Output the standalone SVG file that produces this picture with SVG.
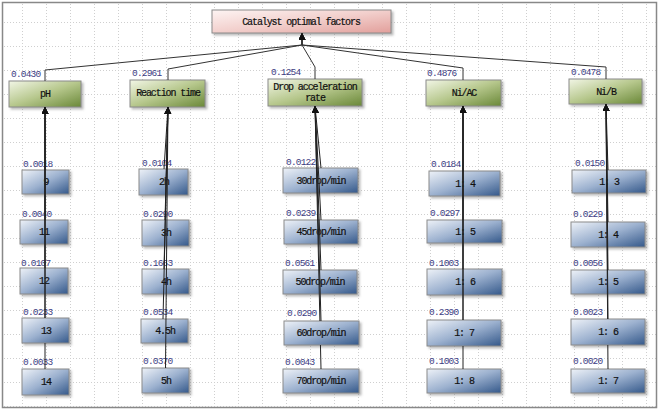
<svg xmlns="http://www.w3.org/2000/svg" width="661" height="411" viewBox="0 0 661 411">
<defs>
<style>
.frame{fill:url(#grid);stroke:#888;stroke-width:1.5}
.box{stroke:#8a8a8a;stroke-width:1;filter:url(#sh)}
.root{fill:url(#gRoot)}
.fac{fill:url(#gGreen)}
.chd{fill:url(#gBlue)}
.t{font-family:"Liberation Mono",monospace;font-size:10px;letter-spacing:-1.1px;fill:#111;text-anchor:middle;stroke:#111;stroke-width:0.2}
.w{font-family:"Liberation Mono",monospace;font-size:9.5px;letter-spacing:-0.8px;fill:#3c3c82}
.c{fill:none;stroke:#333;stroke-width:1;marker-end:url(#arr)}
.cc{fill:none;stroke:#222;stroke-width:1;marker-end:url(#arr)}
</style>
<pattern id="grid" patternUnits="userSpaceOnUse" x="22" y="22" width="24" height="24">
<rect width="24" height="24" fill="#fff"/>
<path d="M0 0.5H24M0.5 0V24" stroke="#cfcfcf" stroke-width="1" stroke-dasharray="1 2" fill="none"/>
</pattern>
<linearGradient id="gRoot" x1="0" y1="0" x2="1" y2="1">
<stop offset="0" stop-color="#fdf4f3"/><stop offset="0.5" stop-color="#f2cfcc"/><stop offset="1" stop-color="#e29f9b"/>
</linearGradient>
<linearGradient id="gGreen" x1="0" y1="0" x2="1" y2="1">
<stop offset="0" stop-color="#f2f6e6"/><stop offset="0.5" stop-color="#b6c78c"/><stop offset="1" stop-color="#6a8838"/>
</linearGradient>
<linearGradient id="gBlue" x1="0" y1="0" x2="1" y2="1">
<stop offset="0" stop-color="#eef2f8"/><stop offset="0.5" stop-color="#9cb1cf"/><stop offset="1" stop-color="#34588a"/>
</linearGradient>
<filter id="sh" x="-10%" y="-20%" width="130%" height="150%">
<feDropShadow dx="2" dy="2" stdDeviation="1" flood-color="#777" flood-opacity="0.5"/>
</filter>
<marker id="arr" markerUnits="userSpaceOnUse" markerWidth="8" markerHeight="8" refX="7" refY="3.5" orient="auto">
<path d="M0 0L7 3.5L0 7z" fill="#111"/>
</marker>
</defs>
<rect class="frame" x="2.5" y="2.5" width="654" height="405"/>

<g id="root"><rect class="box root" x="212" y="10" width="179" height="23"/><text class="t" x="301" y="25">Catalyst optimal factors</text></g>

<g id="f-ph"><rect class="box fac" x="9" y="81" width="72" height="26"/><text class="t" x="45" y="97">pH</text></g>
<g id="f-rt"><rect class="box fac" x="130" y="80" width="75" height="27"/><text class="t" x="168" y="96">Reaction time</text></g>
<g id="f-drop"><rect class="box fac" x="268" y="79" width="94" height="27"/><text class="t" x="315" y="90">Drop acceleration</text><text class="t" x="315" y="101">rate</text></g>
<g id="f-niac"><rect class="box fac" x="426" y="80" width="75" height="26"/><text class="t" x="464" y="96">Ni/AC</text></g>
<g id="f-nib"><rect class="box fac" x="569" y="79" width="73" height="25"/><text class="t" x="606" y="95">Ni/B</text></g>

<g id="ph-9"><rect class="box chd" x="22" y="170" width="47" height="24"/><text class="t" x="46" y="185">9</text></g>
<g id="ph-11"><rect class="box chd" x="20" y="220" width="48" height="24"/><text class="t" x="44" y="235">11</text></g>
<g id="ph-12"><rect class="box chd" x="20" y="268" width="48" height="26"/><text class="t" x="44" y="284">12</text></g>
<g id="ph-13"><rect class="box chd" x="22" y="318" width="47" height="25"/><text class="t" x="46" y="334">13</text></g>
<g id="ph-14"><rect class="box chd" x="22" y="369" width="47" height="26"/><text class="t" x="46" y="385">14</text></g>

<g id="rt-2"><rect class="box chd" x="139" y="169" width="49" height="26"/><text class="t" x="164" y="185">2h</text></g>
<g id="rt-3"><rect class="box chd" x="142" y="220" width="47" height="26"/><text class="t" x="166" y="236">3h</text></g>
<g id="rt-4"><rect class="box chd" x="142" y="269" width="47" height="25"/><text class="t" x="166" y="285">4h</text></g>
<g id="rt-45"><rect class="box chd" x="141" y="319" width="47" height="24"/><text class="t" x="165" y="334">4.5h</text></g>
<g id="rt-5"><rect class="box chd" x="142" y="368" width="47" height="25"/><text class="t" x="166" y="384">5h</text></g>

<g id="dr-30"><rect class="box chd" x="283" y="168" width="75" height="25"/><text class="t" x="321" y="184">30drop/min</text></g>
<g id="dr-45"><rect class="box chd" x="284" y="220" width="74" height="24"/><text class="t" x="321" y="235">45drop/min</text></g>
<g id="dr-50"><rect class="box chd" x="283" y="270" width="74" height="24"/><text class="t" x="320" y="285">50drop/min</text></g>
<g id="dr-60"><rect class="box chd" x="284" y="321" width="75" height="24"/><text class="t" x="321" y="336">60drop/min</text></g>
<g id="dr-70"><rect class="box chd" x="283" y="369" width="76" height="24"/><text class="t" x="321" y="384">70drop/min</text></g>

<g id="ac-4"><rect class="box chd" x="429" y="171" width="71" height="25"/><text class="t" x="465" y="187">1: 4</text></g>
<g id="ac-5"><rect class="box chd" x="427" y="220" width="75" height="23"/><text class="t" x="465" y="235">1: 5</text></g>
<g id="ac-6"><rect class="box chd" x="427" y="269" width="75" height="26"/><text class="t" x="465" y="285">1: 6</text></g>
<g id="ac-7"><rect class="box chd" x="427" y="320" width="74" height="26"/><text class="t" x="464" y="336">1: 7</text></g>
<g id="ac-8"><rect class="box chd" x="427" y="369" width="74" height="24"/><text class="t" x="464" y="384">1: 8</text></g>

<g id="b-3"><rect class="box chd" x="572" y="170" width="74" height="23"/><text class="t" x="609" y="185">1: 3</text></g>
<g id="b-4"><rect class="box chd" x="571" y="222" width="74" height="25"/><text class="t" x="608" y="238">1: 4</text></g>
<g id="b-5"><rect class="box chd" x="571" y="270" width="74" height="24"/><text class="t" x="608" y="285">1: 5</text></g>
<g id="b-6"><rect class="box chd" x="571" y="319" width="74" height="26"/><text class="t" x="608" y="335">1: 6</text></g>
<g id="b-7"><rect class="box chd" x="571" y="369" width="74" height="24"/><text class="t" x="608" y="384">1: 7</text></g>

<g id="weights">
<text class="w" x="11" y="77">0.0430</text>
<text class="w" x="132" y="76">0.2961</text>
<text class="w" x="271" y="75">0.1254</text>
<text class="w" x="427" y="76">0.4876</text>
<text class="w" x="571" y="75">0.0478</text>
<text class="w" x="23" y="167">0.0018</text>
<text class="w" x="22" y="217">0.0040</text>
<text class="w" x="21" y="266">0.0107</text>
<text class="w" x="23" y="315">0.0233</text>
<text class="w" x="23" y="365">0.0033</text>
<text class="w" x="142" y="166">0.0104</text>
<text class="w" x="143" y="217">0.0290</text>
<text class="w" x="143" y="266">0.1663</text>
<text class="w" x="143" y="315">0.0534</text>
<text class="w" x="143" y="364">0.0370</text>
<text class="w" x="286" y="165">0.0122</text>
<text class="w" x="286" y="216">0.0239</text>
<text class="w" x="285" y="266">0.0561</text>
<text class="w" x="287" y="316">0.0290</text>
<text class="w" x="285" y="365">0.0043</text>
<text class="w" x="431" y="167">0.0184</text>
<text class="w" x="430" y="216">0.0297</text>
<text class="w" x="429" y="266">0.1003</text>
<text class="w" x="429" y="315">0.2390</text>
<text class="w" x="429" y="364">0.1003</text>
<text class="w" x="575" y="166">0.0150</text>
<text class="w" x="573" y="217">0.0229</text>
<text class="w" x="573" y="266">0.0056</text>
<text class="w" x="573" y="315">0.0023</text>
<text class="w" x="573" y="364">0.0020</text>
</g>

<g id="connectors">
<path class="c" d="M45 81V70L302 45V33"/>
<path class="c" d="M168 80V69L302 45V33"/>
<path class="c" d="M315 79V67L302 45V33"/>
<path class="c" d="M463 80V68L302 45V33"/>
<path class="c" d="M606 79V67L302 45V33"/>

<path class="cc" d="M45 170V107"/>
<path class="cc" d="M45 220V107"/>
<path class="cc" d="M45 268V107"/>
<path class="cc" d="M45 318V107"/>
<path class="cc" d="M45 369V343M45 318V107"/>

<path class="cc" d="M164 169L168 107"/>
<path class="cc" d="M165 220L168 107"/>
<path class="cc" d="M164 269L168 107"/>
<path class="cc" d="M163 319L168 107"/>
<path class="cc" d="M165.5 368L168 107"/>

<path class="cc" d="M321 168L315 106"/>
<path class="cc" d="M321 220L315 106"/>
<path class="cc" d="M321 270L315 106"/>
<path class="cc" d="M321 321L315 106"/>
<path class="cc" d="M321 369L320.45 345M319.9 321L315 106"/>

<path class="cc" d="M463 171V106"/>
<path class="cc" d="M463 220V106"/>
<path class="cc" d="M463 269V106"/>
<path class="cc" d="M463 320V106"/>
<path class="cc" d="M463 369V346M463 320V106"/>

<path class="cc" d="M608 170L606 104"/>
<path class="cc" d="M608 222L606 104"/>
<path class="cc" d="M608 270L606 104"/>
<path class="cc" d="M608 319L606 104"/>
<path class="cc" d="M608 369L607.8 345M607.6 319L606 104"/>
</g>
</svg>
